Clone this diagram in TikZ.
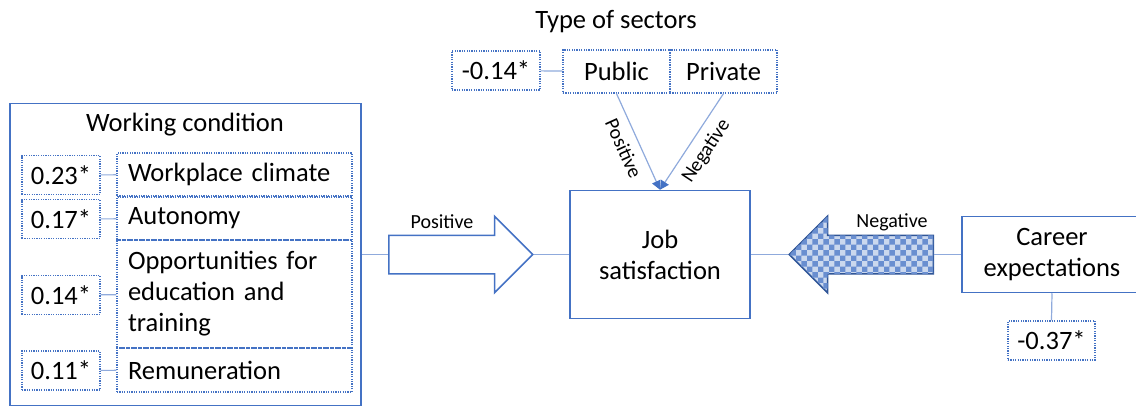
\documentclass[tikz,border=0pt]{standalone}
\usepackage{fontspec}
\setmainfont{Carlito}
\usepackage{tikz}
\usetikzlibrary{arrows.meta,shapes.arrows,patterns}
\definecolor{boxblue}{HTML}{4472C4}
\definecolor{linkblue}{HTML}{8FAADC}
\definecolor{darkblue}{HTML}{2F5597}
\definecolor{shadeblue}{HTML}{B4C7E7}

\begin{document}
\begin{tikzpicture}[x=1pt,y=-1pt,font=\fontsize{26.5}{31}\selectfont]
\tikzstyle{box}=[rectangle,draw=boxblue,line width=1.5pt,inner sep=0pt,align=center]
\tikzstyle{dotbox}=[rectangle,draw=boxblue,line width=1.2pt,dash pattern=on 1.2pt off 1.2pt,inner sep=0pt]
\tikzstyle{val}=[dotbox,minimum width=78pt,minimum height=39pt]
\tikzstyle{item}=[dotbox,text width=213pt,inner xsep=11pt,align=left]
\tikzstyle{link}=[draw=linkblue,line width=1.2pt]
\tikzstyle{big}=[single arrow,draw=boxblue,line width=1.5pt,minimum height=144pt,inner xsep=0pt,inner ysep=18.5pt,single arrow head extend=19pt,single arrow head indent=0pt,font=\fontsize{1}{1}\selectfont]
\tikzstyle{lab}=[font=\fontsize{20}{24}\selectfont]
\useasboundingbox (0,0) rectangle (1136,407);
\clip (0,0) rectangle (1136,407);
\node[box,minimum width=351pt,minimum height=302pt] (wc) at (185.5,254.5) {};
\node (wct) at (185,125) {Working condition};
\node[val] (v1) at (61,175) {0.23*};
\node[item,minimum height=43pt] (l1) at (234.5,174.5) {Workplace climate};
\node[val] (v2) at (61,219) {0.17*};
\node[item,minimum height=43pt] (l2) at (234.5,218.5) {Autonomy};
\node[val] (v3) at (61,295) {0.14*};
\node[item,minimum height=108pt] (l3) at (234.5,294) {Opportunities for\\education and\\training};
\node[val] (v4) at (61,370.5) {0.11*};
\node[item,minimum height=44pt] (l4) at (234.5,370) {Remuneration};
\node[box,minimum width=180pt,minimum height=128pt] (job) at (660,254.5) {Job\\satisfaction};
\node[box,minimum width=180pt,minimum height=76pt] (car) at (1052,254.5) {Career\\expectations};
\node[val,minimum width=87pt] (v6) at (1051.5,340.5) {-0.37*};
\node (tst) at (616,22) {Type of sectors};
\node[val,minimum width=88pt] (v5) at (496,70.5) {-0.14*};
\node[dotbox,minimum width=107pt,minimum height=43pt] (pub) at (616.5,71.5) {Public};
\node[dotbox,minimum width=107pt,minimum height=43pt] (pri) at (723.5,71.5) {Private};
\node[big,anchor=tail] (pos) at (388,254.5) {};
\node[big,anchor=tail,shape border rotate=180,draw=darkblue,fill=shadeblue!70,postaction={pattern=checkerboard,pattern color=boxblue!80}] (neg) at (934,254.5) {};
\node[lab] (pl) at (442,222) {Positive};
\node[lab] (nl) at (892,222) {Negative};
\draw[link] (v1) -- (l1);
\draw[link] (v2) -- (l2);
\draw[link] (v3) -- (l3);
\draw[link] (v4) -- (l4);
\draw[link] (v5) -- (pub);
\draw[link] (wc.east) -- (pos.tail);
\draw[link] (pos.tip) -- (job.west);
\draw[link] (job.east) -- (neg.tip);
\draw[link] (neg.tail) -- (car.west);
\draw[link] (car.south) -- (v6.north);
\draw[link,-{Triangle[length=9pt,width=9pt,color=boxblue]}] (pub.south) -- node[lab,midway,below=5pt,sloped] {Positive} (job.north);
\draw[link,-{Triangle[length=9pt,width=9pt,color=boxblue]}] (pri.south) -- node[lab,midway,below=5pt,sloped] {Negative} (job.north);
\end{tikzpicture}
\end{document}
